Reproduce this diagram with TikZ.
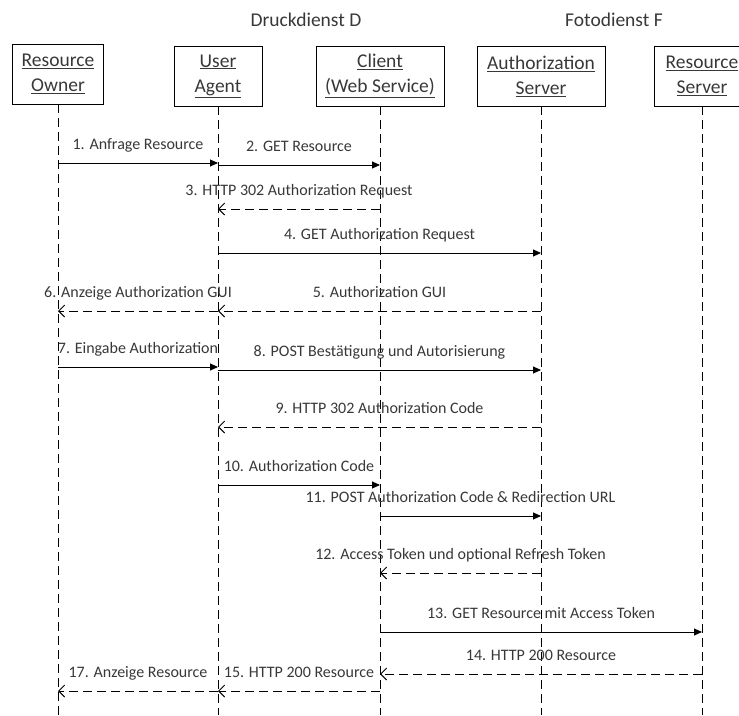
\documentclass[tikz,border=0pt]{standalone}
\usepackage{fontspec}
\setmainfont{Carlito}
\usetikzlibrary{positioning,arrows.meta}
\tikzset{
  actor/.style={draw, line width=0.9pt, minimum height=60pt, align=center, inner sep=2pt, font=\fontsize{19.5}{25}\selectfont, text=black!78},
  lifeline/.style={line width=0.8pt, dash pattern=on 9pt off 5pt},
  callarrow/.style={-{Triangle[length=8pt,width=7pt]}, line width=0.9pt},
  replyarrow/.style={-{Straight Barb[length=6pt,width=12pt]}, line width=0.9pt, dash pattern=on 9pt off 5pt},
  msglabel/.style={font=\fontsize{16}{19}\selectfont, text=black!78, anchor=base, yshift=14pt},
  grouplabel/.style={font=\fontsize{19.5}{24}\selectfont, text=black!78}
}

\begin{document}
\begin{tikzpicture}[x=1pt, y=-1pt]
  \useasboundingbox (0,0) rectangle (739,715);
  \clip (0,0) rectangle (739,715);

  % groups
  \node[grouplabel] (druck) at (306,20) {Druckdienst D};
  \node[grouplabel] (foto) at (614,20) {Fotodienst F};

  % actors
  \node[actor, minimum width=91pt] (ro) at (58,74) {\underline{Resource}\\\underline{Owner}};
  \node[actor, minimum width=88pt] (ua) at (218,76) {\underline{User}\\\underline{Agent}};
  \node[actor, minimum width=128pt] (cl) at (380,76) {\underline{Client}\\\underline{(Web Service)}};
  \node[actor, minimum width=128pt] (as) at (541,76) {\underline{Authorization}\\\underline{Server}};
  \node[actor, minimum width=96pt] (rs) at (702,76) {\underline{Resource}\\\underline{Server}};

  % lifelines
  \coordinate (bot) at (0,715);
  \draw[lifeline] (ro) -- (ro |- bot);
  \draw[lifeline] (ua) -- (ua |- bot);
  \draw[lifeline] (cl) -- (cl |- bot);
  \draw[lifeline] (as) -- (as |- bot);
  \draw[lifeline] (rs) -- (rs |- bot);

  % message rows
  \coordinate (m1) at (0,163);
  \coordinate (m2) at (0,165);
  \coordinate (m3) at (0,209);
  \coordinate (m4) at (0,253);
  \coordinate (m5) at (0,311);
  \coordinate (m7) at (0,367);
  \coordinate (m8) at (0,370);
  \coordinate (m9) at (0,427);
  \coordinate (m10) at (0,485);
  \coordinate (m11) at (0,516);
  \coordinate (m12) at (0,573);
  \coordinate (m13) at (0,632);
  \coordinate (m14) at (0,674);
  \coordinate (m15) at (0,691);

  % messages
  \draw[callarrow] (ro |- m1) -- node[msglabel] {1. Anfrage Resource} (ua |- m1);
  \draw[callarrow] (ua |- m2) -- node[msglabel] {2. GET Resource} (cl |- m2);
  \draw[replyarrow] (cl |- m3) -- node[msglabel] {3. HTTP 302 Authorization Request} (ua |- m3);
  \draw[callarrow] (ua |- m4) -- node[msglabel] {4. GET Authorization Request} (as |- m4);
  \draw[replyarrow] (as |- m5) -- node[msglabel] {5. Authorization GUI} (ua |- m5);
  \draw[replyarrow] (ua |- m5) -- node[msglabel] {6. Anzeige Authorization GUI} (ro |- m5);
  \draw[callarrow] (ro |- m7) -- node[msglabel] {7. Eingabe Authorization} (ua |- m7);
  \draw[callarrow] (ua |- m8) -- node[msglabel] {8. POST Bestätigung und Autorisierung} (as |- m8);
  \draw[replyarrow] (as |- m9) -- node[msglabel] {9. HTTP 302 Authorization Code} (ua |- m9);
  \draw[callarrow] (ua |- m10) -- node[msglabel] {10. Authorization Code} (cl |- m10);
  \draw[callarrow] (cl |- m11) -- node[msglabel] {11. POST Authorization Code \& Redirection URL} (as |- m11);
  \draw[replyarrow] (as |- m12) -- node[msglabel] {12. Access Token und optional Refresh Token} (cl |- m12);
  \draw[callarrow] (cl |- m13) -- node[msglabel] {13. GET Resource mit Access Token} (rs |- m13);
  \draw[replyarrow] (rs |- m14) -- node[msglabel] {14. HTTP 200 Resource} (cl |- m14);
  \draw[replyarrow] (cl |- m15) -- node[msglabel] {15. HTTP 200 Resource} (ua |- m15);
  \draw[replyarrow] (ua |- m15) -- node[msglabel] {17. Anzeige Resource} (ro |- m15);
\end{tikzpicture}
\end{document}
